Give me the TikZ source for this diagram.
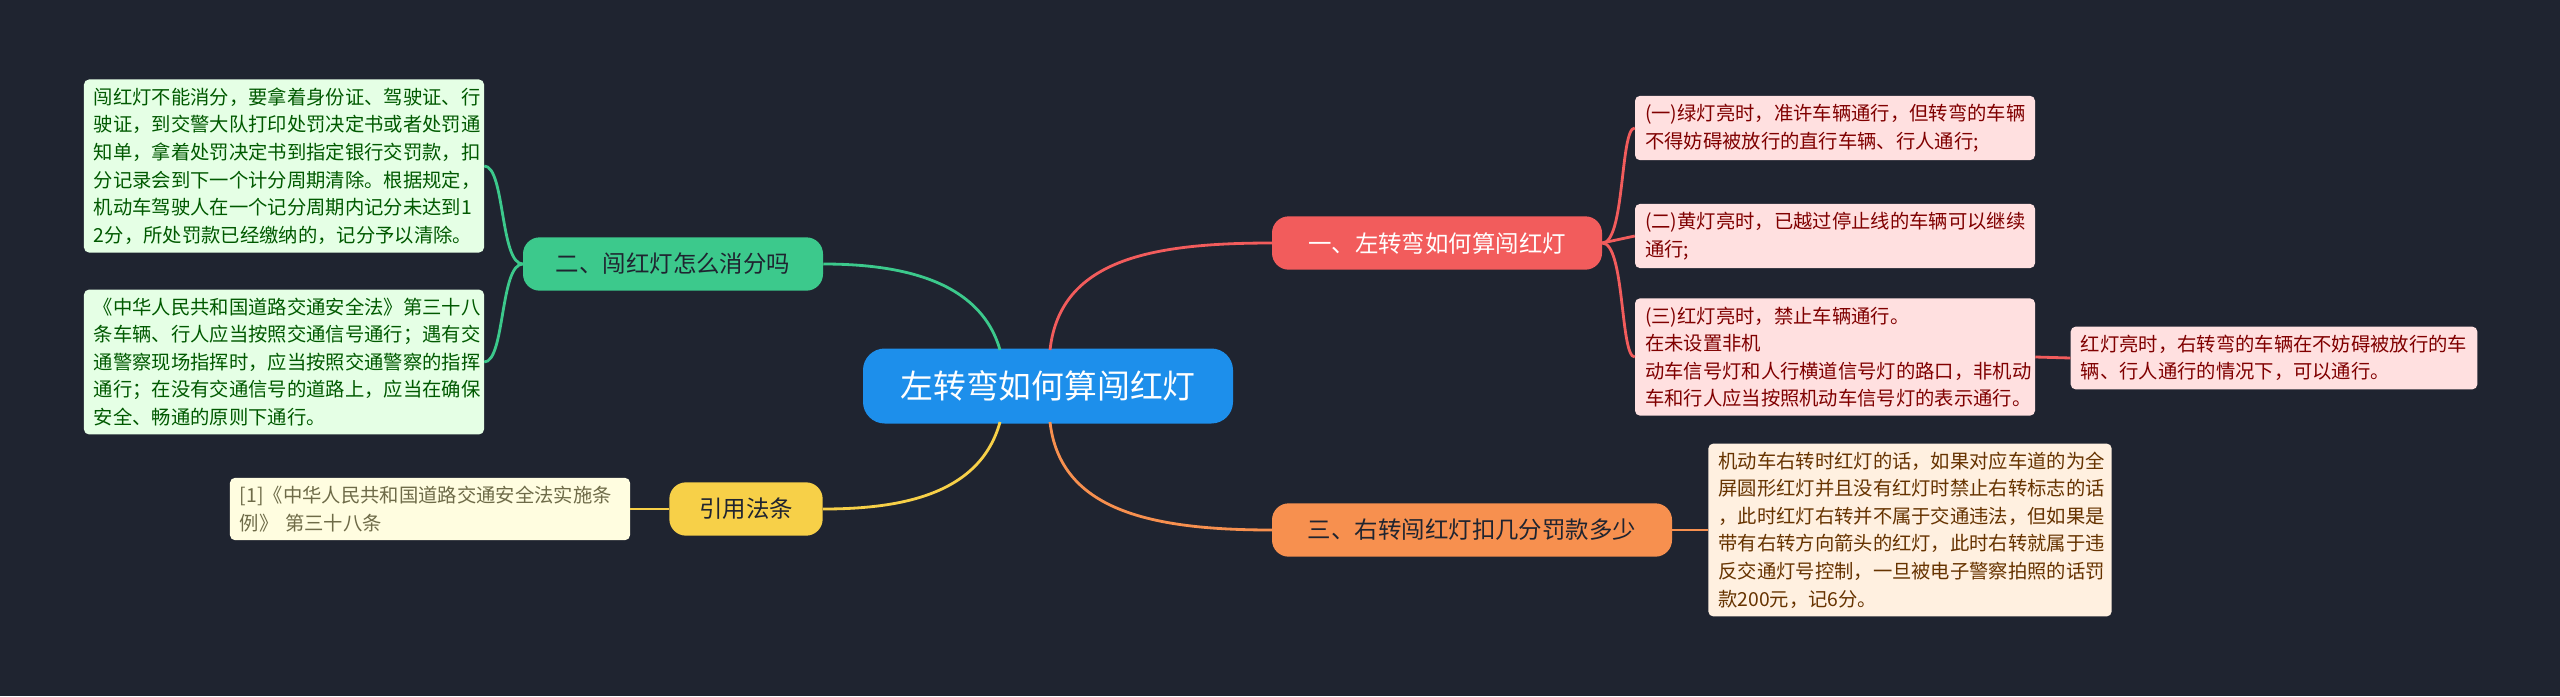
\documentclass[tikz,border=0pt]{standalone}
\usepackage{fontspec}
\newfontfamily\cjk{Noto Sans CJK SC}
\usetikzlibrary{positioning}
\definecolor{bgc}{HTML}{1F2430}
\definecolor{mainc}{HTML}{1D8FEB}
\definecolor{redc}{HTML}{F25C5C}
\definecolor{greenc}{HTML}{3CC98C}
\definecolor{yellowc}{HTML}{F7D048}
\definecolor{orangec}{HTML}{F7904F}
\begin{document}
\begin{tikzpicture}[x=0.03cm, y=-0.03cm]
\tikzstyle{rootnode}=[font=\cjk\fontsize{28}{30}\selectfont, rectangle, rounded corners=0.65cm, fill=mainc, text=white, minimum width=11.1cm, minimum height=2.25cm]
\tikzstyle{branch}=[font=\cjk\fontsize{20}{22}\selectfont, rectangle, rounded corners=0.5cm, minimum height=1.6cm, inner xsep=0.5cm]
\tikzstyle{leaf}=[font=\cjk\fontsize{16.5}{23.5}\selectfont, rectangle, rounded corners=0.15cm, align=left, inner xsep=0.3cm, inner ysep=0.25cm]
\tikzstyle{link}=[line width=2.4pt]
\fill[bgc] (0,0) rectangle (2560,696);
\useasboundingbox (0,0) rectangle (2560,696);

\node[rootnode] (root) at (1048,386) {左转弯如何算闯红灯};

\node[branch, fill=redc, text=white, minimum width=9.9cm] (left) at (1437,243) {一、左转弯如何算闯红灯};
\node[branch, fill=greenc, text=bgc, minimum width=9cm] (clear) at (673,264) {二、闯红灯怎么消分吗};
\node[branch, fill=yellowc, text=bgc, minimum width=4.6cm] (cite) at (746,509) {引用法条};
\node[branch, fill=orangec, text=bgc, minimum width=12cm] (right) at (1472,530) {三、右转闯红灯扣几分罚款多少};

\node[leaf, fill=green!10, text=green!35!black, text width=11.4cm] (clearA) at (284,166) {闯红灯不能消分，要拿着身份证、驾驶证、行\\驶证，到交警大队打印处罚决定书或者处罚通\\知单，拿着处罚决定书到指定银行交罚款，扣\\分记录会到下一个计分周期清除。根据规定，\\机动车驾驶人在一个记分周期内记分未达到1\\2分，所处罚款已经缴纳的，记分予以清除。};
\node[leaf, fill=green!10, text=green!35!black, text width=11.4cm] (clearB) at (284,362) {《中华人民共和国道路交通安全法》第三十八\\条车辆、行人应当按照交通信号通行；遇有交\\通警察现场指挥时，应当按照交通警察的指挥\\通行；在没有交通信号的道路上，应当在确保\\安全、畅通的原则下通行。};
\node[leaf, fill=yellow!12, text=yellow!35!black, text width=11.4cm] (citeA) at (430,509) {[1]《中华人民共和国道路交通安全法实施条\\例》 第三十八条};

\node[leaf, fill=red!12, text=red!50!black, text width=11.4cm] (leftA) at (1835,128) {(一)绿灯亮时，准许车辆通行，但转弯的车辆\\不得妨碍被放行的直行车辆、行人通行;};
\node[leaf, fill=red!12, text=red!50!black, text width=11.4cm] (leftB) at (1835,236) {(二)黄灯亮时，已越过停止线的车辆可以继续\\通行;};
\node[leaf, fill=red!12, text=red!50!black, text width=11.4cm] (leftC) at (1835,357) {(三)红灯亮时，禁止车辆通行。 在未设置非机\\动车信号灯和人行横道信号灯的路口，非机动\\车和行人应当按照机动车信号灯的表示通行。};
\node[leaf, fill=red!12, text=red!50!black, text width=11.6cm] (leftD) at (2274,358) {红灯亮时，右转弯的车辆在不妨碍被放行的车\\辆、行人通行的情况下，可以通行。};
\node[leaf, fill=orange!12, text=orange!40!black, text width=11.5cm] (rightA) at (1910,530) {机动车右转时红灯的话，如果对应车道的为全\\屏圆形红灯并且没有红灯时禁止右转标志的话\\，此时红灯右转并不属于交通违法，但如果是\\带有右转方向箭头的红灯，此时右转就属于违\\反交通灯号控制，一旦被电子警察拍照的话罚\\款200元，记6分。};

% root to branches
\draw[link, redc] (1050,350) .. controls (1060,260) and (1150,243) .. (left.west);
\draw[link, orangec] (1050,422) .. controls (1060,510) and (1150,530) .. (right.west);
\draw[link, greenc] (1000,350) .. controls (980,280) and (900,264) .. (clear.east);
\draw[link, yellowc] (1000,422) .. controls (980,495) and (900,509) .. (cite.east);
% branches to leaves
\draw[link, redc] (left.east) .. controls (1625,243) and (1620,128) .. (leftA.west);
\draw[link, redc] (left.east) -- (leftB.west);
\draw[link, redc] (left.east) .. controls (1625,243) and (1620,357) .. (leftC.west);
\draw[link, redc] (leftC.east) -- (leftD.west);
\draw[link, greenc] (clear.west) .. controls (500,264) and (505,166) .. (clearA.east);
\draw[link, greenc] (clear.west) .. controls (500,264) and (505,362) .. (clearB.east);
\draw[link, yellowc] (cite.west) -- (citeA.east);
\draw[link, orangec] (right.east) -- (rightA.west);
\end{tikzpicture}
\end{document}
